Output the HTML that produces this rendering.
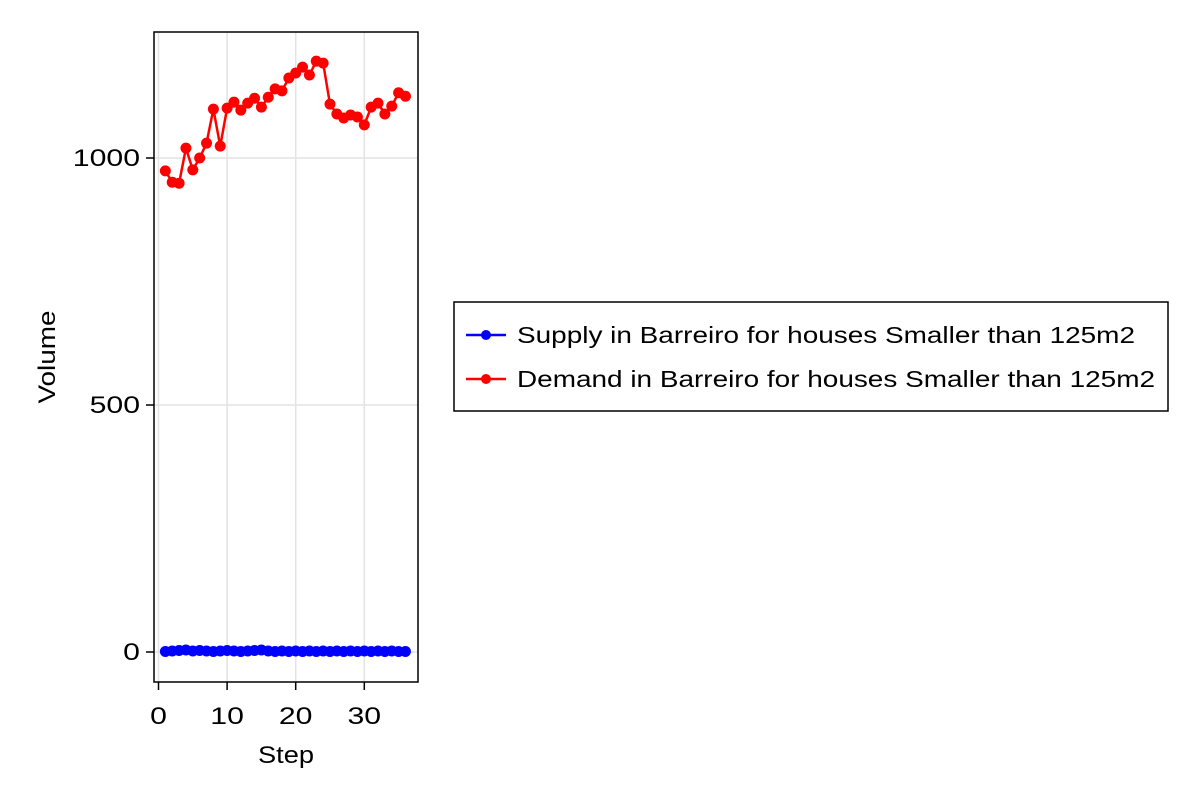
<!DOCTYPE html>
<html><head><meta charset="utf-8"><style>
body{margin:0;background:#fff;}
text{font-family:"Liberation Sans",sans-serif;}
</style></head><body>
<svg id="chart" width="1200" height="800">
<g id="grid"></g>
<g id="series"></g>
<rect x="154" y="32" width="264" height="650" fill="none" stroke="#000" stroke-width="1.5"/>
<g id="axes"></g>
<text x="286" y="763" text-anchor="middle" font-size="24" textLength="56" lengthAdjust="spacingAndGlyphs">Step</text>
<text transform="translate(55,357) rotate(-90)" text-anchor="middle" font-size="24" textLength="93" lengthAdjust="spacingAndGlyphs">Volume</text>
<g>
<rect x="454" y="302" width="714" height="109" fill="#fff" stroke="#000" stroke-width="1.5"/>
<g>
<line x1="466" y1="335" x2="506" y2="335" stroke="#00f" stroke-width="2.5"/><circle cx="486" cy="335" r="5" fill="#00f"/>
<text x="517" y="343" font-size="23" textLength="618" lengthAdjust="spacingAndGlyphs">Supply in Barreiro for houses Smaller than 125m2</text></g>
<g>
<line x1="466" y1="379" x2="506" y2="379" stroke="#f00" stroke-width="2.5"/><circle cx="486" cy="379" r="5" fill="#f00"/>
<text x="517" y="387" font-size="23" textLength="638" lengthAdjust="spacingAndGlyphs">Demand in Barreiro for houses Smaller than 125m2</text></g>
</g>
</svg>
<script>
const steps=[1,2,3,4,5,6,7,8,9,10,11,12,13,14,15,16,17,18,19,20,21,22,23,24,25,26,27,28,29,30,31,32,33,34,35,36];
const demand=[974,951,949,1020,976,1000,1030,1099,1024,1101,1113,1097,1111,1121,1103,1123,1140,1136,1162,1172,1184,1168,1196,1192,1109,1089,1081,1087,1083,1067,1103,1111,1089,1105,1132,1125];
const supply=[1,2,3,4,2,3,2,1,2,3,2,1,2,3,4,2,1,2,1,2,1,2,1,2,1,2,1,2,1,2,1,2,1,2,1,1];
const xTicks=[0,10,20,30];
const yTicks=[0,500,1000];
const ns="http://www.w3.org/2000/svg";
const X=v=>158.5+v*6.86;
const Y=v=>652-v*0.494;
const grid=document.getElementById('grid'),axes=document.getElementById('axes'),ser=document.getElementById('series');
function mk(t,a,p){const e=document.createElementNS(ns,t);for(const k in a)e.setAttribute(k,a[k]);p.appendChild(e);return e;}
xTicks.forEach(t=>{
 const g=mk('line',{x1:X(t),x2:X(t),y1:32,y2:682,stroke:'#e3e3e3','stroke-width':1.5},grid);
 
 
 mk('line',{x1:X(t),x2:X(t),y1:682,y2:690,stroke:'#000','stroke-width':1.5},axes);
 const tx=mk('text',{x:X(t),y:724,'text-anchor':'middle','font-size':24,textLength:String(t).length*16.8,lengthAdjust:'spacingAndGlyphs'},axes);tx.textContent=t;
 
 
});
yTicks.forEach(t=>{
 const g=mk('line',{x1:154,x2:418,y1:Y(t),y2:Y(t),stroke:'#e3e3e3','stroke-width':1.5},grid);
 
 
 mk('line',{x1:146,x2:154,y1:Y(t),y2:Y(t),stroke:'#000','stroke-width':1.5},axes);
 const tx=mk('text',{x:140,y:Y(t)+8,'text-anchor':'end','font-size':24,textLength:String(t).length*16.8,lengthAdjust:'spacingAndGlyphs'},axes);tx.textContent=t;
 
 
});
function series(vals,col,name){
 const p=mk('polyline',{points:vals.map((v,i)=>X(steps[i])+','+Y(v)).join(' '),fill:'none',stroke:col,'stroke-width':2.5},ser);
 
 
 vals.forEach((v,i)=>{const c=mk('circle',{cx:X(steps[i]),cy:Y(v),r:5.5,fill:col},ser);
 
 });
}
series(supply,'#00f','supply');
series(demand,'#f00','demand');
</script>
</body></html>
